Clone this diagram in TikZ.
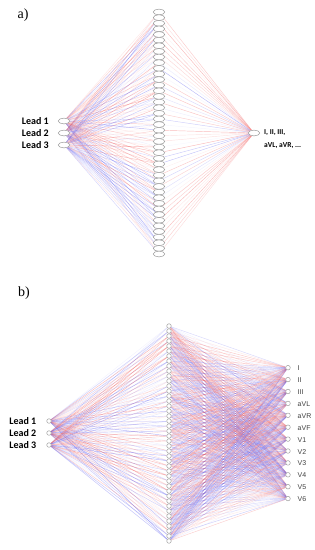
\documentclass[tikz,border=0pt]{standalone}
\usepackage{fontspec}
\setmainfont{Liberation Serif}
\newfontfamily\leadfont{Carlito}
\newfontfamily\ecgfont{Liberation Sans}
\usepackage{tikz}
\usetikzlibrary{shapes.geometric, positioning, backgrounds}
\definecolor{wred}{RGB}{240,90,90}
\definecolor{wblue}{RGB}{100,100,240}

\begin{document}
\begin{tikzpicture}[x=1pt, y=-1pt, node distance=9pt]
\tikzstyle{cellA} = [ellipse, draw=gray!80, fill=white, line width=0.5pt, minimum width=11.5pt, minimum height=5.8pt, inner sep=0pt]
\tikzstyle{cellB} = [circle, draw=gray!80, fill=white, line width=0.45pt, minimum size=4.6pt, inner sep=0pt]
\tikzstyle{leadlbl} = [font=\leadfont\bfseries\fontsize{10}{12}\selectfont, inner sep=0pt]
\tikzstyle{outlbl} = [font=\leadfont\bfseries\fontsize{7.5}{9}\selectfont, inner sep=0pt, anchor=west]
\tikzstyle{ecglbl} = [font=\ecgfont\fontsize{7}{8}\selectfont, text=black!75, inner sep=0pt]
\tikzstyle{panel} = [font=\fontsize{14}{16}\selectfont, inner sep=0pt]
\tikzstyle{wire} = [line width=0.45pt]

\useasboundingbox (0,0) rectangle (315,550);
\pgfmathsetseed{42}

% a) one output
\node (tagA) [panel] at (23,15) {a)};
\foreach \i in {1,...,3} {
  \node (ai\i) [cellA] at (64,{109+12*\i}) {};
  \node (al\i) [leadlbl, left=of ai\i] {Lead \i};
}
\foreach \j in {1,...,44}
  \node (ah\j) [cellA] at (159,{12+(\j-1)*5.628}) {};
\node (ao) [cellA] at (254,133) {};
\node (aoa) [outlbl] at (264,133) {I, II, III,};
\node (aob) [outlbl] at (264,146) {aVL, aVR, ...};

% b) twelve outputs
\node (tagB) [panel] at (24,293) {b)};
\foreach \i in {1,...,3} {
  \node (bi\i) [cellB] at (49,{409+12*\i}) {};
  \node (bl\i) [leadlbl, left=10pt of bi\i] {Lead \i};
}
\foreach \j in {1,...,44}
  \node (bh\j) [cellB] at (169,{326+(\j-1)*5.0}) {};
\foreach \k/\lbl in {1/I, 2/II, 3/III, 4/aVL, 5/aVR, 6/aVF, 7/V1, 8/V2, 9/V3, 10/V4, 11/V5, 12/V6} {
  \node (bo\k) [cellB] at (288,{367.7+(\k-1)*11.9}) {};
  \node (bt\k) [ecglbl, anchor=west] at ([xshift=7pt, yshift=-0.6pt]bo\k.east) {\lbl};
}

% weights
\begin{scope}[on background layer]
\foreach \i in {1,...,3}
  \foreach \j in {1,...,44} {
    \pgfmathsetmacro{\op}{0.05+0.4*rnd}
    \pgfmathtruncatemacro{\pick}{rnd<0.5}
    \ifnum\pick=1 \def\wc{wred}\else\def\wc{wblue}\fi
    \draw [wire, draw=\wc, draw opacity=\op] (ai\i) -- (ah\j);
    \pgfmathsetmacro{\op}{0.05+0.4*rnd}
    \pgfmathtruncatemacro{\pick}{rnd<0.5}
    \ifnum\pick=1 \def\wc{wred}\else\def\wc{wblue}\fi
    \draw [wire, draw=\wc, draw opacity=\op] (bi\i) -- (bh\j);
  }
\foreach \j in {1,...,44} {
  \pgfmathsetmacro{\op}{0.05+0.4*rnd}
  \pgfmathtruncatemacro{\pick}{rnd<0.5}
  \ifnum\pick=1 \def\wc{wred}\else\def\wc{wblue}\fi
  \draw [wire, draw=\wc, draw opacity=\op] (ah\j) -- (ao);
}
\foreach \j in {1,...,44}
  \foreach \k in {1,...,12} {
    \pgfmathsetmacro{\op}{0.04+0.32*rnd}
    \pgfmathtruncatemacro{\pick}{rnd<0.5}
    \ifnum\pick=1 \def\wc{wred}\else\def\wc{wblue}\fi
    \draw [wire, draw=\wc, draw opacity=\op] (bh\j) -- (bo\k);
  }
\end{scope}

\end{tikzpicture}
\end{document}
